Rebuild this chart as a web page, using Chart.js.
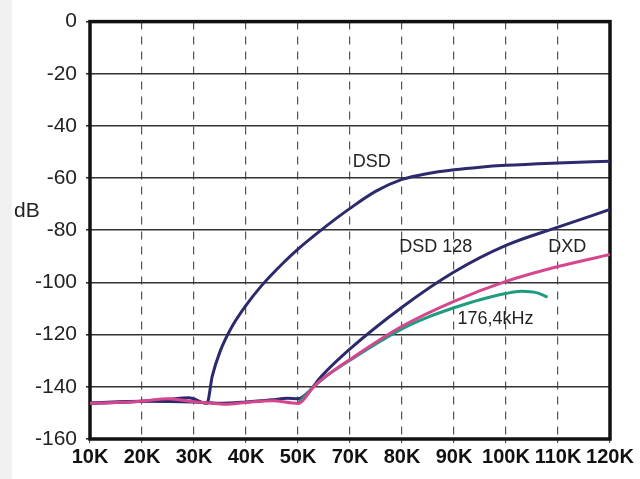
<!DOCTYPE html>
<html><head><meta charset="utf-8">
<script src="https://cdn.jsdelivr.net/npm/chart.js@4"></script>
<style>
html,body{margin:0;padding:0;background:#fff}
#wrap{position:relative;width:640px;height:479px;background:linear-gradient(to right,#f1f1f1 0,#f1f1f1 12px,#fff 12px)}
canvas{display:block}
</style></head>
<body><div id="wrap"><canvas id="c" width="640" height="479"></canvas></div>
<script>
// x positions are grid-slot positions along the axis (0 = first tick "10K")
const xTickLabels = ["10K","20K","30K","40K","50K","70K","80K","90K","100K","110K","120K"];
const yTickValues = [0,-20,-40,-60,-80,-100,-120,-140,-160];

const dsdX = [0,0.5,1,1.5,1.9,2.25,2.35,2.5,2.7,3,3.3,3.7,4,4.42,5,5.5,6,6.5,7,7.5,8,9,10];
const dsdY = [-146.3,-146,-145.5,-144.8,-144.2,-146.3,-136,-126.5,-118,-108.8,-101.2,-92.8,-87.2,-80.3,-71.6,-65,-60.5,-58.2,-56.8,-55.8,-55.1,-54.2,-53.5];

const dsd128X = [0,1,2,2.5,3,3.5,3.8,4,4.2,4.45,5,6,7,8,9,10];
const dsd128Y = [-146.2,-145.5,-145.8,-146.3,-145.8,-145,-144.4,-144.6,-142,-136,-125.5,-109.5,-96,-85.8,-78.8,-72];

const dxdX = [0,0.5,1,1.5,2,2.3,2.6,3,3.5,4,4.3,4.5,5,6,7,8,9,10];
const dxdY = [-146.3,-146,-145.5,-144.6,-145.7,-146.2,-146.7,-146,-145.3,-146.4,-140,-136.5,-129.5,-116.8,-107.2,-99.6,-93.9,-89.3];

const khz176X = [4,4.3,4.5,5,6,6.5,7,7.5,8,8.3,8.6,8.8];
const khz176Y = [-146.4,-140,-136.6,-129.8,-117.8,-113.3,-109.7,-106.6,-104.2,-103.4,-104,-105.6];

const seriesNames = ["DSD","DSD 128","DXD","176,4kHz"];
const labelX = [5.42,6.65,9.18,7.8];
const labelY = [-54,-86.5,-86.5,-114];

const pts = (xs,ys)=>xs.map((x,i)=>({x:x,y:ys[i]}));

const NAVY = '#2c2a6c', PINK = '#d5468f', TEAL = '#1e9c7e';

const framePlugin = {
  id:'frame',
  beforeDatasetsDraw(chart){
    const {ctx, chartArea:a} = chart;
    ctx.save();
    ctx.strokeStyle = '#111';
    ctx.lineWidth = 3.5;
    ctx.strokeRect(a.left, a.top, a.right-a.left, a.bottom-a.top);
    ctx.restore();
  },
  afterDatasetsDraw(chart){
    const {ctx, scales:{x,y}} = chart;
    ctx.save();
    ctx.fillStyle = '#222';
    ctx.textAlign = 'center';
    ctx.textBaseline = 'middle';
    ctx.font = '18px "Liberation Sans", Arial, sans-serif';
    seriesNames.forEach((t,i)=>{
      ctx.fillText(t, x.getPixelForValue(labelX[i]), y.getPixelForValue(labelY[i]));
    });
    ctx.font = '21px "Liberation Sans", Arial, sans-serif';
    ctx.textAlign = 'left';
    ctx.fillText('dB', 14, y.getPixelForValue(-72.5));
    ctx.restore();
  }
};

new Chart(document.getElementById('c'), {
  type:'line',
  data:{datasets:[
    {label:'DXD', data:pts(dxdX,dxdY), borderColor:PINK, borderWidth:3, order:1},
    {label:'176,4kHz', data:pts(khz176X,khz176Y), borderColor:TEAL, borderWidth:3, order:2},
    {label:'DSD 128', data:pts(dsd128X,dsd128Y), borderColor:NAVY, borderWidth:3, order:3},
    {label:'DSD', data:pts(dsdX,dsdY), borderColor:NAVY, borderWidth:3, order:4}
  ]},
  options:{
    responsive:false, animation:false,
    elements:{point:{radius:0}, line:{cubicInterpolationMode:'monotone', fill:false}},
    layout:{padding:{left:0,right:30,top:18,bottom:0}},
    plugins:{legend:{display:false}, tooltip:{enabled:false}},
    scales:{
      x:{type:'linear', min:0, max:10,
        afterBuildTicks(s){ s.ticks = xTickLabels.map((_,i)=>({value:i})); },
        afterFit(s){ s.height = 40; },
        grid:{color:'#555', lineWidth:1.2, tickLength:4, drawOnChartArea:true},
        border:{display:false, dash:[8,7]},
        ticks:{autoSkip:false, maxRotation:0, padding:2, color:'#111',
          font:{family:'"Liberation Sans", Arial, sans-serif', size:20, weight:'bold'},
          callback:(v)=>xTickLabels[v]}
      },
      y:{type:'linear', min:-160, max:0,
        afterBuildTicks(s){ s.ticks = yTickValues.map(v=>({value:v})); },
        afterFit(s){ s.width = 90; },
        grid:{color:'#333', lineWidth:1.6, tickLength:4},
        border:{display:false},
        ticks:{padding:9, color:'#222',
          font:{family:'"Liberation Sans", Arial, sans-serif', size:21}}
      }
    }
  },
  plugins:[framePlugin]
});
</script>
</body></html>
